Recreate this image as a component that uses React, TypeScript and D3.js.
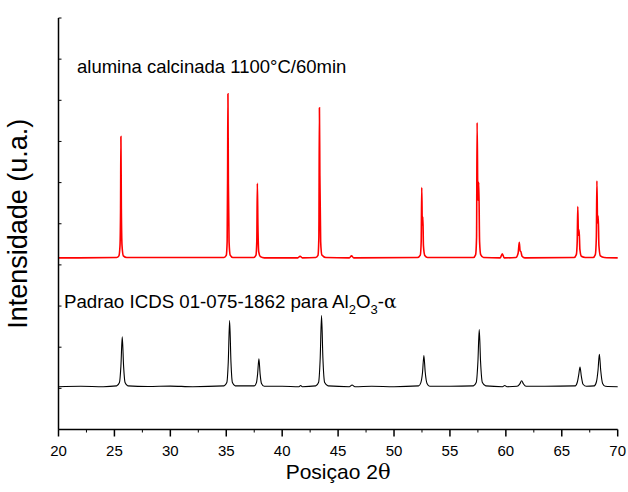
import * as d3 from 'd3';
import React, { useRef, useEffect } from 'react';

// 2θ (deg), intensity above own baseline (a.u.)
const aluminaPattern: [number, number][] = [
    [20, 0], [25.2, 0.1], [25.4, 0.5], [25.5, 3], [25.55, 12], [25.58, 29.5], [25.62, 12], [25.68, 3], [25.8, 0.5], [26.1, 0.1],
    [34.8, 0.1], [35.0, 0.6], [35.08, 4], [35.12, 20], [35.15, 39.9], [35.19, 18], [35.25, 4], [35.35, 0.7], [35.6, 0.1],
    [37.45, 0.1], [37.65, 0.6], [37.73, 4], [37.78, 18.1], [37.83, 8], [37.9, 1.5], [38.05, 0.3], [38.4, 0],
    [41.4, 0], [41.6, 0.4], [41.8, 0],
    [43.0, 0.1], [43.2, 0.6], [43.28, 5], [43.33, 36.5], [43.37, 20], [43.44, 4], [43.55, 0.7], [43.9, 0.1],
    [46.0, 0], [46.2, 0.5], [46.4, 0],
    [52.1, 0.1], [52.35, 0.7], [52.43, 4], [52.48, 17.1], [52.53, 8], [52.58, 10], [52.63, 3], [52.75, 0.6], [53.0, 0.1],
    [57.1, 0.1], [57.3, 0.8], [57.38, 5], [57.43, 32.9], [57.5, 14], [57.58, 18.4], [57.65, 4], [57.75, 0.8], [58.0, 0.1],
    [59.5, 0], [59.68, 1], [59.85, 0],
    [60.9, 0.1], [61.1, 1.2], [61.2, 3.8], [61.28, 1.6], [61.33, 1.6], [61.45, 0.4], [61.7, 0],
    [66.1, 0.1], [66.3, 0.8], [66.38, 4], [66.43, 12.5], [66.49, 5.5], [66.55, 6.8], [66.62, 2], [66.75, 0.4], [67.1, 0.1],
    [67.8, 0.1], [68.0, 0.8], [68.09, 5], [68.14, 18.7], [68.2, 8.5], [68.26, 10.2], [68.32, 3], [68.45, 0.5], [68.8, 0.1],
    [70, 0],
];

const icdsPattern: [number, number][] = [
    [20, 0], [22, 0.1], [24, 0], [25.2, 0.2], [25.45, 1], [25.58, 5], [25.7, 12.1], [25.82, 5], [25.95, 1], [26.2, 0.2],
    [28, 0.05], [30, 0.15], [32, 0],
    [34.8, 0.2], [35.05, 1], [35.18, 6], [35.3, 16.1], [35.42, 6], [35.55, 1], [35.8, 0.2],
    [37.5, 0.2], [37.7, 1], [37.8, 3], [37.92, 6.8], [38.03, 3], [38.15, 0.8], [38.4, 0.1],
    [40, 0.1], [41.5, 0], [41.65, 0.3], [41.8, 0],
    [43.0, 0.2], [43.25, 1], [43.4, 7], [43.52, 17.3], [43.64, 7], [43.8, 1], [44.1, 0.2],
    [46.0, 0], [46.25, 0.4], [46.5, 0], [48, 0.1], [50, 0],
    [52.2, 0.2], [52.4, 1], [52.55, 3.5], [52.67, 7.6], [52.79, 3.5], [52.95, 0.8], [53.2, 0.1],
    [55, 0.1], [57.1, 0.2], [57.35, 1], [57.5, 6], [57.62, 13.9], [57.74, 6], [57.9, 1], [58.2, 0.2],
    [59.7, 0], [59.9, 0.3], [60.1, 0],
    [61.0, 0.1], [61.25, 0.7], [61.41, 1.45], [61.57, 0.7], [61.8, 0.1],
    [63.5, 0.1], [66.2, 0.2], [66.4, 1.2], [66.52, 3], [66.63, 4.8], [66.75, 2.5], [66.9, 0.6], [67.2, 0.1],
    [67.9, 0.2], [68.1, 1.2], [68.24, 4], [68.36, 7.9], [68.48, 4], [68.65, 0.8], [68.9, 0.1],
    [70, 0],
];

const aluminaOffset = 41.7;
const icdsOffset = 10.4;

const xTicks = [20, 25, 30, 35, 40, 45, 50, 55, 60, 65, 70];
const xMinor = [22.5, 27.5, 32.5, 37.5, 42.5, 47.5, 52.5, 57.5, 62.5, 67.5];
const yTicks = [0, 10, 20, 30, 40, 50, 60, 70, 80, 90, 100];

const width = 628;
const height = 492;
const margin = { top: 18, right: 10, bottom: 63, left: 58.5 };
const font = 'Liberation Sans, Arial, sans-serif';

export default function App() {
    const ref = useRef<SVGSVGElement | null>(null);

    useEffect(() => {
        const svg = d3.select(ref.current);
        svg.selectAll('*').remove();

        const x = d3.scaleLinear().domain([20, 70]).range([margin.left, 617.7]);
        const y = d3.scaleLinear().domain([0, 100]).range([429.5, margin.top]);

        const line = (offset: number) =>
            d3
                .line<[number, number]>()
                .x((d) => x(d[0]))
                .y((d) => y(d[1] + offset))
                .curve(d3.curveMonotoneX);

        svg.append('path')
            .datum(aluminaPattern)
            .attr('d', line(aluminaOffset) as any)
            .attr('fill', 'none')
            .attr('stroke', '#ff0000')
            .attr('stroke-width', 1.6);

        svg.append('path')
            .datum(icdsPattern)
            .attr('d', line(icdsOffset) as any)
            .attr('fill', 'none')
            .attr('stroke', '#000')
            .attr('stroke-width', 1.1);

        // x axis
        const xAxis = svg.append('g');
        xAxis.append('line')
            .attr('x1', x(20)).attr('x2', x(70))
            .attr('y1', y(0)).attr('y2', y(0))
            .attr('stroke', '#000').attr('stroke-width', 1.5);
        xAxis.selectAll('line.major')
            .data(xTicks)
            .join('line')
            .attr('class', 'major')
            .attr('x1', (d) => x(d)).attr('x2', (d) => x(d))
            .attr('y1', y(0)).attr('y2', y(0) + 7)
            .attr('stroke', '#000').attr('stroke-width', 1.5);
        xAxis.selectAll('line.minor')
            .data(xMinor)
            .join('line')
            .attr('class', 'minor')
            .attr('x1', (d) => x(d)).attr('x2', (d) => x(d))
            .attr('y1', y(0)).attr('y2', y(0) + 3)
            .attr('stroke', '#000').attr('stroke-width', 1);
        xAxis.selectAll('text')
            .data(xTicks)
            .join('text')
            .attr('x', (d) => x(d))
            .attr('y', 456)
            .attr('text-anchor', 'middle')
            .style('font-family', font)
            .style('font-size', '15px')
            .text((d) => d);

        // y axis
        svg.append('line')
            .attr('x1', x(20)).attr('x2', x(20))
            .attr('y1', y(0)).attr('y2', y(100))
            .attr('stroke', '#000').attr('stroke-width', 1.5);
        svg.selectAll('line.ytick')
            .data(yTicks)
            .join('line')
            .attr('class', 'ytick')
            .attr('x1', x(20)).attr('x2', x(20) + 3)
            .attr('y1', (d) => y(d)).attr('y2', (d) => y(d))
            .attr('stroke', '#000').attr('stroke-width', 1);

        const xTitle = svg.append('text')
            .attr('x', (x(20) + x(70)) / 2)
            .attr('y', 479)
            .attr('text-anchor', 'middle')
            .style('font-family', font)
            .style('font-size', '21px');
        xTitle.append('tspan').text('Posiçao 2');
        xTitle.append('tspan').style('font-family', 'DejaVu Serif, serif').text('θ');

        svg.append('text')
            .attr('transform', `translate(27, ${(y(0) + y(100)) / 2}) rotate(-90)`)
            .attr('text-anchor', 'middle')
            .style('font-family', font)
            .style('font-size', '27px')
            .text('Intensidade (u.a.)');

        // series labels
        svg.append('text')
            .attr('x', 77)
            .attr('y', 73)
            .style('font-family', font)
            .style('font-size', '18.5px')
            .text('alumina calcinada 1100°C/60min');

        const lbl = svg.append('text')
            .attr('x', 64)
            .attr('y', 307.5)
            .style('font-family', font)
            .style('font-size', '18.7px');
        lbl.append('tspan').text('Padrao ICDS 01-075-1862 para Al');
        lbl.append('tspan').attr('dy', 6).style('font-size', '13px').text('2');
        lbl.append('tspan').attr('dy', -6).text('O');
        lbl.append('tspan').attr('dy', 6).style('font-size', '13px').text('3');
        lbl.append('tspan').attr('dy', -6).text('-');
        lbl.append('tspan').style('font-family', 'DejaVu Serif, serif').text('α');
    }, []);

    return (
        <svg
            ref={ref}
            width={width}
            height={height}
            style={{ position: 'absolute', left: 0, top: 0, display: 'block' }}
        />
    );
}
